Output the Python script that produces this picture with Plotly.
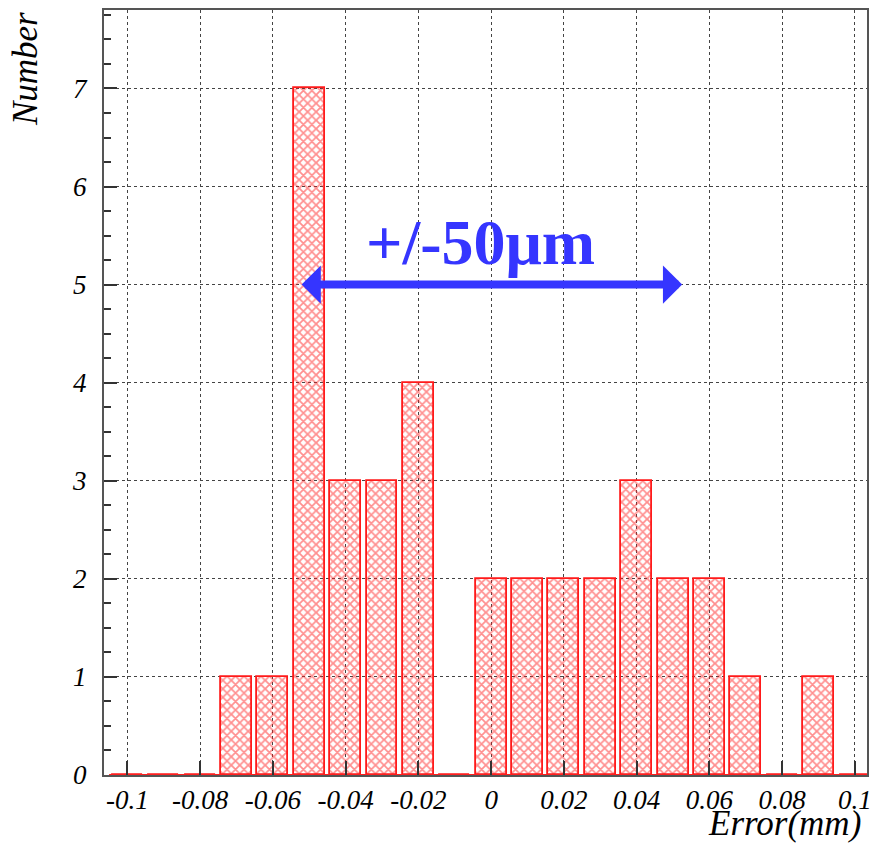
import plotly.graph_objects as go

# Histogram data: bin centers (mm) and counts
bin_centers = [-0.10, -0.09, -0.08, -0.07, -0.06, -0.05, -0.04, -0.03, -0.02, -0.01,
               0.00, 0.01, 0.02, 0.03, 0.04, 0.05, 0.06, 0.07, 0.08, 0.09, 0.10]
counts = [0, 0, 0, 1, 1, 7, 3, 3, 4, 0,
          2, 2, 2, 2, 3, 2, 2, 1, 0, 1, 0]
bin_width = 0.01

x_tickvals = [-0.1, -0.08, -0.06, -0.04, -0.02, 0, 0.02, 0.04, 0.06, 0.08, 0.1]
x_ticktext = ["-0.1", "-0.08", "-0.06", "-0.04", "-0.02", "0", "0.02", "0.04", "0.06", "0.08", "0.1"]
y_tickvals = [0, 1, 2, 3, 4, 5, 6, 7]

arrow_span = [-0.0525, 0.0525]
arrow_level = 5
label_text = "+/-50μm"

serif = "Liberation Serif"

fig = go.Figure()

# baseline of histogram (empty bins drawn as line at zero)
edges_x = [bin_centers[0] - bin_width / 2, bin_centers[-1] + bin_width / 2]
fig.add_trace(go.Scatter(x=edges_x, y=[0, 0], mode="lines",
                         line=dict(color="#ff2020", width=2), hoverinfo="skip",
                         showlegend=False))

fig.add_trace(go.Bar(
    x=bin_centers, y=counts, width=[bin_width * 0.85] * len(bin_centers),
    marker=dict(color="rgba(255,255,255,0)",
                line=dict(color="#ff1a1a", width=1.8),
                pattern=dict(shape="x", fgcolor="#ff2020", bgcolor="rgba(255,255,255,0)",
                             size=6, solidity=0.5, fillmode="overlay")),
    showlegend=False))

fig.update_layout(
    width=873, height=844,
    margin=dict(l=104, r=1, t=10, b=69),
    paper_bgcolor="white", plot_bgcolor="white",
    bargap=0,
    xaxis=dict(range=[-0.1064, 0.1033], tickvals=x_tickvals, ticktext=x_ticktext,
               ticks="inside", ticklen=14, tickwidth=1.5, tickcolor="#333",
               showline=True, linecolor="#555", linewidth=2, mirror=True,
               showgrid=True, gridcolor="#444", griddash="dot", gridwidth=1.4,
               zeroline=False, ticklabeloverflow="allow",
               tickfont=dict(family=serif, size=27, color="black", style="italic")),
    yaxis=dict(range=[0, 7.8], tickvals=y_tickvals,
               ticks="inside", ticklen=13, tickwidth=1.5, tickcolor="#333",
               minor=dict(dtick=0.25, ticks="inside", ticklen=7, tickcolor="#333",
                          showgrid=False),
               showline=True, linecolor="#555", linewidth=2, mirror=True,
               showgrid=True, gridcolor="#444", griddash="dot", gridwidth=1.4,
               zeroline=False, ticklabelstandoff=10,
               tickfont=dict(family=serif, size=27, color="black", style="italic")),
)

# double-headed arrow
fig.add_annotation(x=arrow_span[1], y=arrow_level, ax=arrow_span[0], ay=arrow_level,
                   xref="x", yref="y", axref="x", ayref="y", text="",
                   showarrow=True, arrowside="end+start", arrowhead=1, startarrowhead=1,
                   arrowsize=0.8, startarrowsize=0.8, arrowwidth=8, arrowcolor="#3535ff")

fig.add_annotation(x=-0.003, y=5.43, xref="x", yref="y", text=label_text, showarrow=False,
                   xanchor="center", yanchor="middle",
                   font=dict(family=serif, size=64, color="#3535ff", weight="bold"))

fig.add_annotation(x=-0.102, y=0.923, xref="paper", yref="paper", text="Number",
                   textangle=-90, showarrow=False, xanchor="center", yanchor="middle",
                   font=dict(family=serif, size=35, color="black", style="italic"))

fig.add_annotation(x=0.9948, y=-0.0911, xref="paper", yref="paper", text="Error(mm)",
                   showarrow=False, xanchor="right", yanchor="bottom",
                   font=dict(family=serif, size=35, color="black", style="italic"))

fig.write_html("out.html")
